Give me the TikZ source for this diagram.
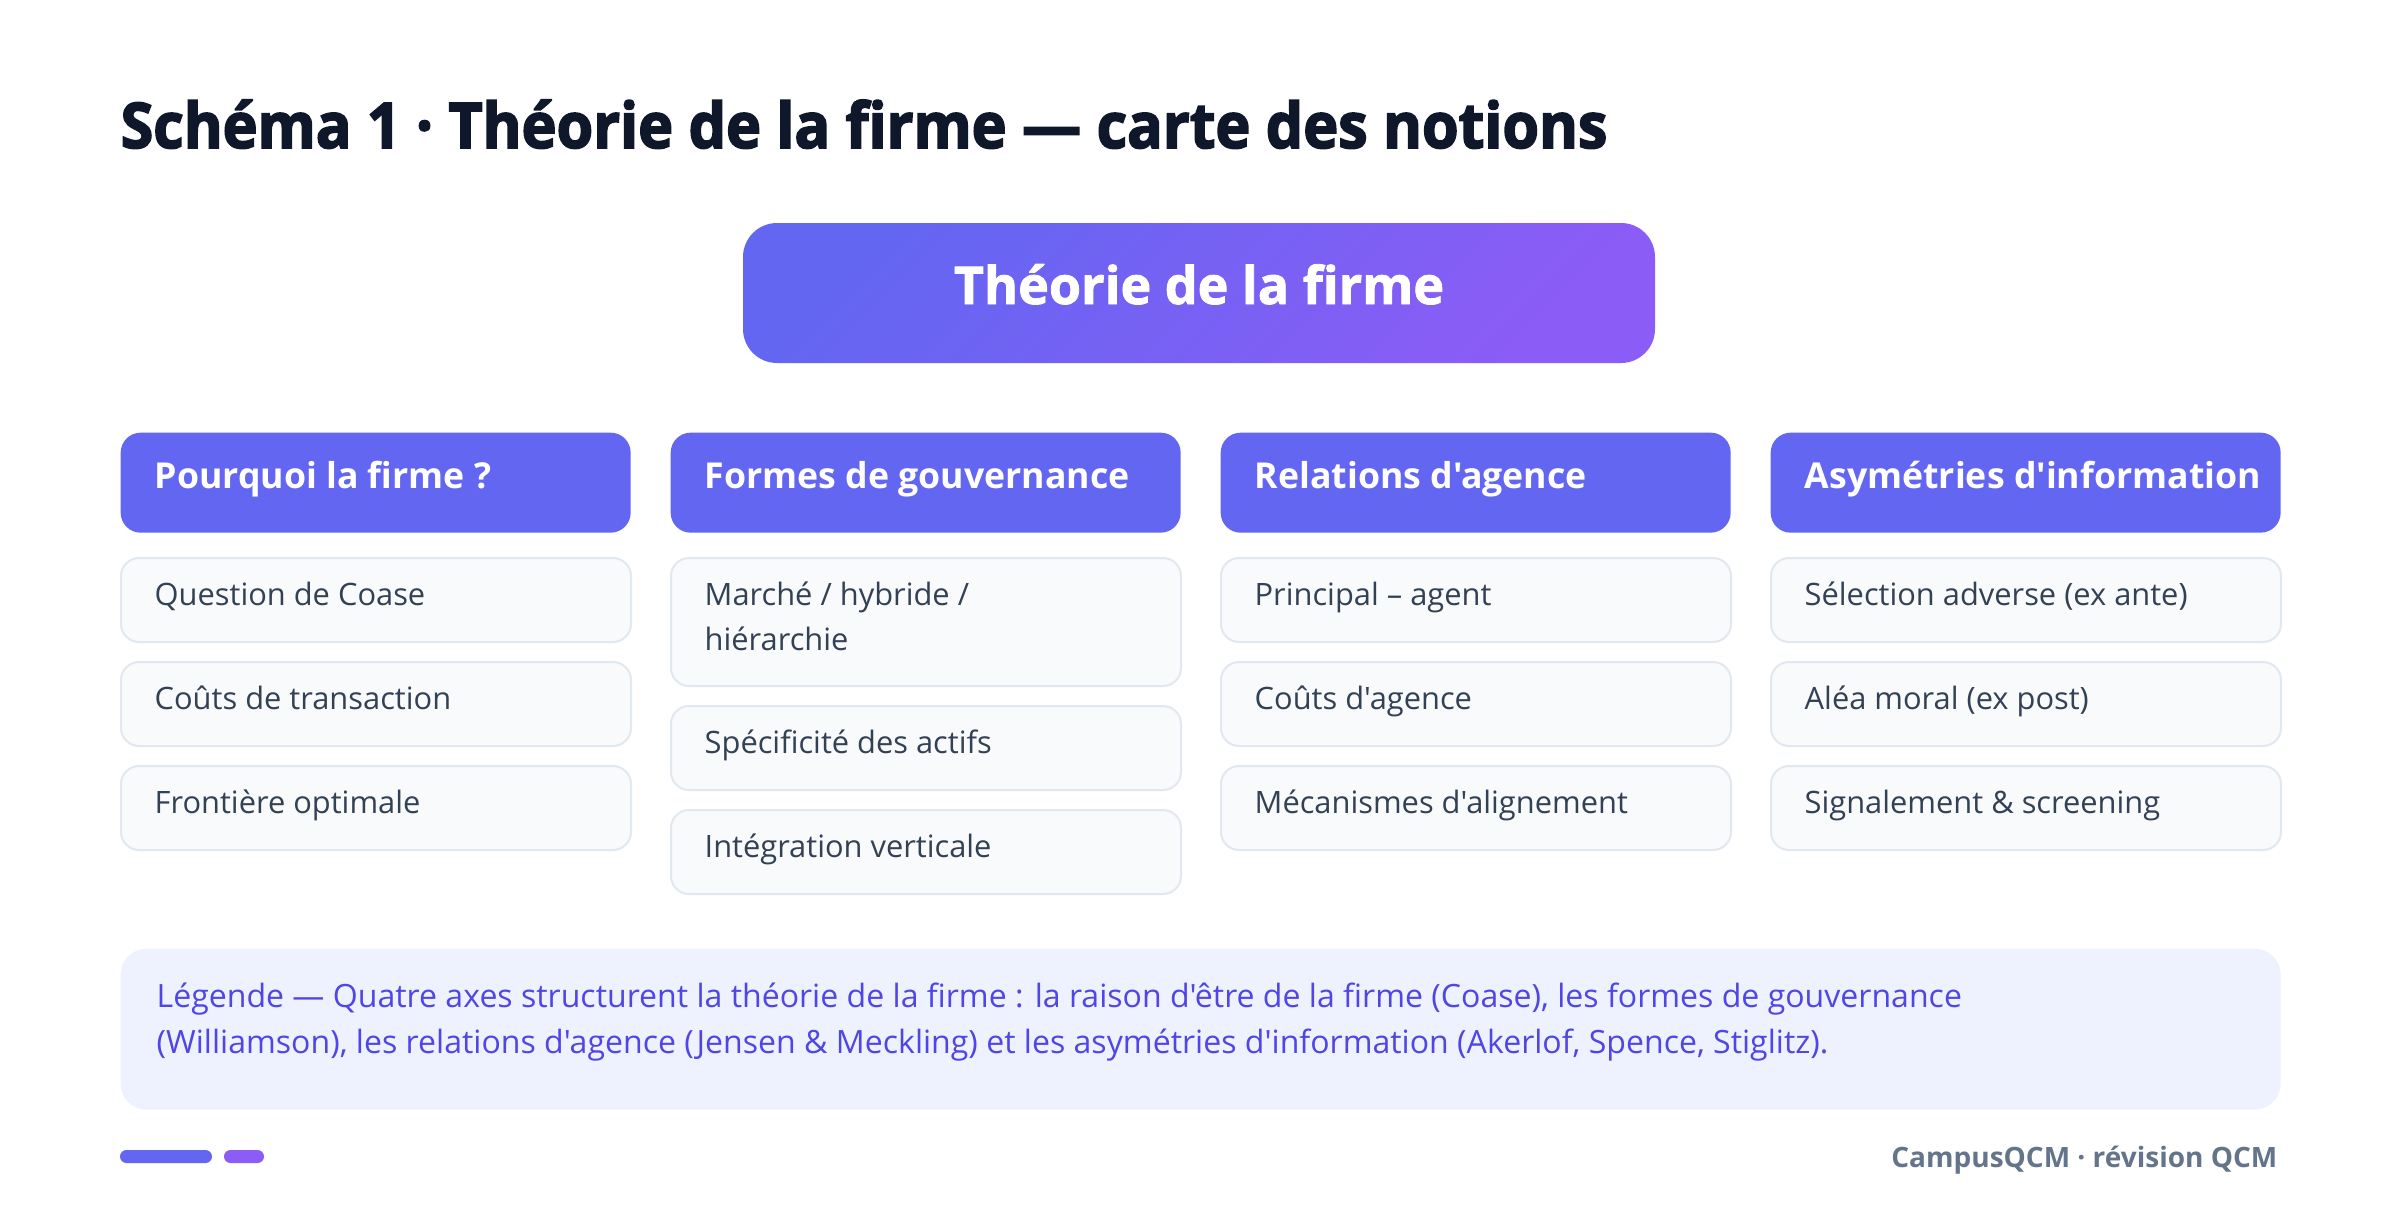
\documentclass[tikz,border=0pt]{standalone}
\usepackage{fontspec}
\setmainfont{Open Sans}[Ligatures=TeXOff]
\newfontfamily\heavyfont{Open Sans}[Ligatures=TeXOff, BoldFeatures={FakeBold=2.6, FakeStretch=0.94}]
\newfontfamily\rootfont{Open Sans}[Ligatures=TeXOff, BoldFeatures={FakeBold=1.6}]
\definecolor{ind}{HTML}{6366F1}
\definecolor{vio}{HTML}{8B5CF6}
\definecolor{itemfill}{HTML}{F8FAFC}
\definecolor{itemdraw}{HTML}{E2E8F0}
\definecolor{itemtext}{HTML}{334155}
\definecolor{titletext}{HTML}{0F172A}
\definecolor{legfill}{HTML}{EEF2FF}
\definecolor{legtext}{HTML}{4F46E5}
\definecolor{foot}{HTML}{64748B}
\begin{document}
\begin{tikzpicture}[x=0.3pt,y=-0.3pt,
  card/.style={draw=itemdraw, line width=0.6pt, fill=itemfill, rounded corners=5.4pt,
    minimum width=153pt, inner sep=0pt, anchor=north west},
  head/.style={fill=ind, rounded corners=6pt, minimum width=153pt, minimum height=30pt,
    inner sep=0pt, anchor=north west},
  cardtxt/.style={anchor=base west, inner sep=0pt, text=itemtext,
    font=\fontsize{9.25}{12}\selectfont},
  headtxt/.style={anchor=base west, inner sep=0pt, text=white,
    font=\bfseries\fontsize{10.7}{13}\selectfont},
  legtxt/.style={anchor=base west, inner sep=0pt, text=legtext,
    font=\fontsize{9.62}{12}\selectfont},
]
\path[use as bounding box, fill=white] (0,0) rectangle (2400,1218);

% title
\node[anchor=base west, inner sep=0pt, text=titletext,
  font=\heavyfont\bfseries\fontsize{18.9}{22}\selectfont] (title) at (120,148)
  {Schéma 1 · Théorie de la firme — carte des notions};

% root
\node[minimum width=273.6pt, minimum height=42pt, inner sep=0pt, rounded corners=10.2pt,
  left color=ind, right color=vio, shading angle=45] (root) at (1199,293) {};
\node[anchor=base, inner sep=0pt, text=white,
  font=\rootfont\bfseries\fontsize{15.6}{18}\selectfont] (roottxt) at (1199,304)
  {Théorie de la firme};

\newcommand\colhead[3]{%
  \node[head] (#1) at (#2,432) {};
  \node[headtxt] (#1t) at (#2+34,488) {#3};}
\newcommand\cardbox[5]{%
  \node[card, minimum height={#4*0.3pt}] (#1) at (#2,#3) {};
  \node[cardtxt] (#1t) at (#2+34,#3+48) {#5};}

\colhead{h1}{120}{Pourquoi la firme ?}
\colhead{h2}{670}{Formes de gouvernance}
\colhead{h3}{1220}{Relations d'agence}
\colhead{h4}{1770}{Asymétries d'information}

\cardbox{a1}{120}{557}{84}{Question de Coase}
\cardbox{a2}{120}{661}{84}{Coûts de transaction}
\cardbox{a3}{120}{765}{84}{Frontière optimale}

\cardbox{b1}{670}{557}{128}{Marché / hybride /}
\node[cardtxt] (b1u) at (704,650) {hiérarchie};
\cardbox{b2}{670}{705}{84}{Spécificité des actifs}
\cardbox{b3}{670}{809}{84}{Intégration verticale}

\cardbox{c1}{1220}{557}{84}{Principal – agent}
\cardbox{c2}{1220}{661}{84}{Coûts d'agence}
\cardbox{c3}{1220}{765}{84}{Mécanismes d'alignement}

\cardbox{d1}{1770}{557}{84}{Sélection adverse (ex ante)}
\cardbox{d2}{1770}{661}{84}{Aléa moral (ex post)}
\cardbox{d3}{1770}{765}{84}{Signalement \& screening}

% legend
\node[fill=legfill, rounded corners=7.8pt, minimum width=648pt, minimum height=48.3pt,
  inner sep=0pt, anchor=north west] (legend) at (120,948) {};
\node[legtxt] (leg1) at (156,1007) {Légende — Quatre axes structurent la théorie de la firme : la raison d'être de la firme (Coase), les formes de gouvernance};
\node[legtxt] (leg2) at (156,1053) {(Williamson), les relations d'agence (Jensen \& Meckling) et les asymétries d'information (Akerlof, Spence, Stiglitz).};

% footer
\fill[ind, rounded corners=1.95pt] (120,1150) rectangle (212,1163);
\fill[vio, rounded corners=1.95pt] (224,1150) rectangle (264,1163);
\node[anchor=base east, inner sep=0pt, text=foot, font=\bfseries\fontsize{8.4}{10}\selectfont]
  (foot) at (2278,1167) {CampusQCM · révision QCM};
\end{tikzpicture}
\end{document}
